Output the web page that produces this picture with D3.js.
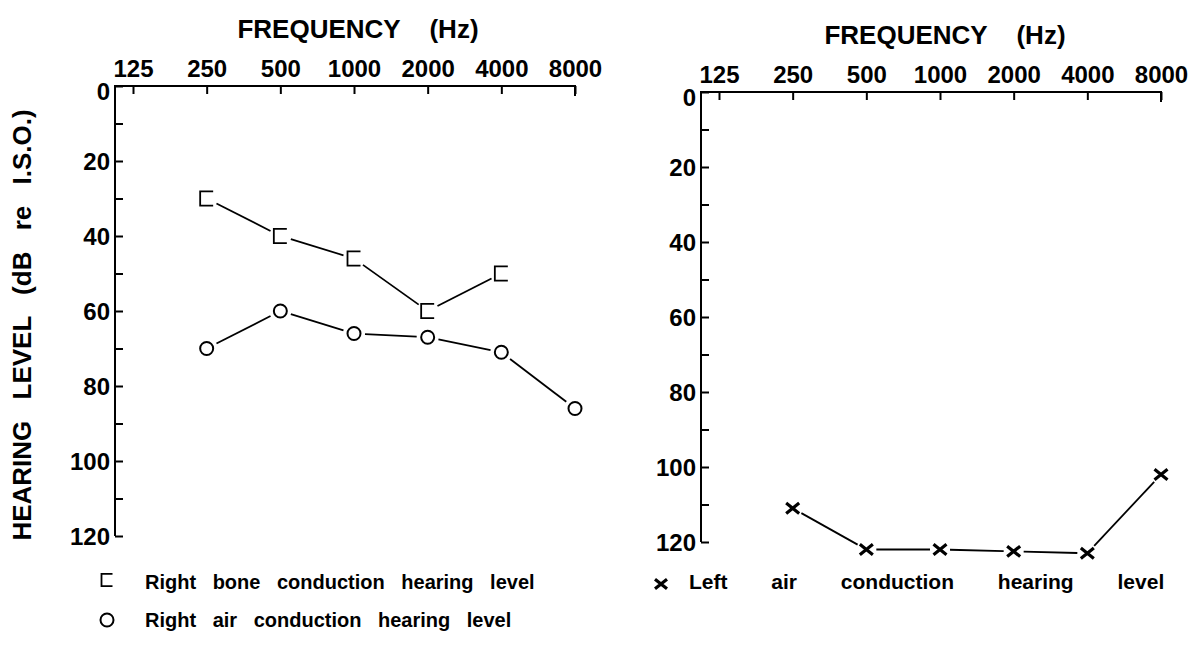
<!DOCTYPE html>
<html>
<head>
<meta charset="utf-8">
<script src="https://cdn.jsdelivr.net/npm/d3@7"></script>
<style>
	body{margin:0;background:#fff;}
	svg text{font-family:"Liberation Sans",Arial,sans-serif;font-weight:bold;fill:#000;}
</style>
</head>
<body>
<div id="app"></div>
<script>
// audiogram data
const freqs = ["125","250","500","1000","2000","4000","8000"];
const dbTicks = [0,10,20,30,40,50,60,70,80,90,100,110,120];

const boneRightFreqs = ["250","500","1000","2000","4000"];
const boneRightLevels = [30,40,46,60,50];

const airRightFreqs = ["250","500","1000","2000","4000","8000"];
const airRightLevels = [70,60,66,67,71,86];

const airLeftFreqs = ["250","500","1000","2000","4000","8000"];
const airLeftLevels = [111,122,122,122.5,123,102];

const legendLabels = [
	"Right bone conduction hearing level",
	"Right air conduction hearing level",
	"Left air conduction hearing level"
];

const W = 1199, H = 666;
const pw = 460, ph = 450;

const svg = d3.select("#app").append("svg")
	.attr("width", W).attr("height", H);

const x = d3.scalePoint().domain(freqs).range([18, pw]);
const y = d3.scaleLinear().domain([0,120]).range([0, ph]);

function zip(fs, ls){
	return fs.map(function(f,i){ return {f:f, v:ls[i]}; });
}

function bracket(g, sz){
	g.append("path")
		.attr("d", "M"+(sz/2)+","+(-sz*0.55)+"H"+(-sz/2)+"V"+(sz*0.55)+"H"+(sz/2))
		.attr("fill","none").attr("stroke","#000").attr("stroke-width",1.8);
}
function ring(g, r){
	g.append("circle").attr("r", r)
		.attr("fill","none").attr("stroke","#000").attr("stroke-width",2);
}
function cross(g, s){
	g.append("path")
		.attr("d","M"+(-s)+","+(-s*0.8)+"L"+s+","+(s*0.8)+"M"+(-s)+","+(s*0.8)+"L"+s+","+(-s*0.8))
		.attr("fill","none").attr("stroke","#000").attr("stroke-width",3.2);
}

// lines between markers leave a small gap at each end
function drawSeries(parent, data, gap, marker){
	var g = parent.append("g");
	for(var i=0;i<data.length-1;i++){
		var x1 = x(data[i].f), y1 = y(data[i].v),
			x2 = x(data[i+1].f), y2 = y(data[i+1].v),
			dx = x2-x1, dy = y2-y1, len = Math.sqrt(dx*dx+dy*dy);
		g.append("line")
			.attr("x1", x1+dx/len*gap).attr("y1", y1+dy/len*gap)
			.attr("x2", x2-dx/len*gap).attr("y2", y2-dy/len*gap)
			.attr("stroke","#000").attr("stroke-width",1.8);
	}
	g.selectAll("g.mk").data(data).enter().append("g")
		.attr("class","mk")
		.attr("transform", function(d){ return "translate("+x(d.f)+","+y(d.v)+")"; })
		.each(function(d){ marker(d3.select(this)); });
}

function panel(ox, oy, titleX){
	var g = svg.append("g").attr("transform","translate("+ox+","+oy+")");

	var xAxis = d3.axisTop(x).tickSize(-8).tickPadding(9);
	var gx = g.append("g").call(xAxis);
	gx.select(".domain").remove();
	gx.selectAll(".tick line").attr("stroke-width",2);
	gx.selectAll(".tick text").attr("font-size",24).attr("font-family",null);

	var yAxis = d3.axisLeft(y).tickValues(dbTicks).tickSize(-8).tickPadding(5)
		.tickFormat(function(d){ return d%20==0 ? d : ""; });
	var gy = g.append("g").call(yAxis);
	gy.select(".domain").remove();
	gy.selectAll(".tick line").attr("stroke-width",2);
	gy.selectAll(".tick text").attr("font-size",24).attr("font-family",null)
		.attr("dy", function(d){ return d==0 ? "0.55em" : "0.35em"; });

	// frame: top line and left line
	g.append("path")
		.attr("d","M"+x("8000")+",10V0H0V"+ph)
		.attr("fill","none").attr("stroke","#000").attr("stroke-width",2);

	g.append("text")
		.attr("x", titleX).attr("y", -48)
		.attr("text-anchor","middle").attr("font-size",26)
		.attr("word-spacing","22px")
		.text("FREQUENCY (Hz)");
	return g;
}

const gl = panel(115, 86, 243);
const gr = panel(701, 92, 244);

drawSeries(gl, zip(boneRightFreqs, boneRightLevels), 11, function(m){ bracket(m,13); });
drawSeries(gl, zip(airRightFreqs, airRightLevels), 11, function(m){ ring(m,6.5); });
drawSeries(gr, zip(airLeftFreqs, airLeftLevels), 10, function(m){ cross(m,6.5); });

// vertical axis title
svg.append("text")
	.attr("transform","translate(31,325) rotate(-90)")
	.attr("text-anchor","middle").attr("font-size",26)
	.attr("word-spacing","14px")
	.text("HEARING LEVEL (dB re I.S.O.)");

// legend
const lg = svg.append("g");
bracket(lg.append("g").attr("transform","translate(107,580)"), 11);
ring(lg.append("g").attr("transform","translate(107,620)"), 6.5);
cross(lg.append("g").attr("transform","translate(661,584)"), 6);

lg.selectAll("text").data(legendLabels).enter().append("text")
	.attr("x", function(d,i){ return i<2 ? 145 : 689; })
	.attr("y", function(d,i){ return i==1 ? 627 : 589; })
	.attr("font-size", function(d,i){ return i<2 ? 20 : 21; })
	.attr("word-spacing", function(d,i){ return i<2 ? "11px" : "38px"; })
	.text(function(d){ return d; });
</script>
</body>
</html>
